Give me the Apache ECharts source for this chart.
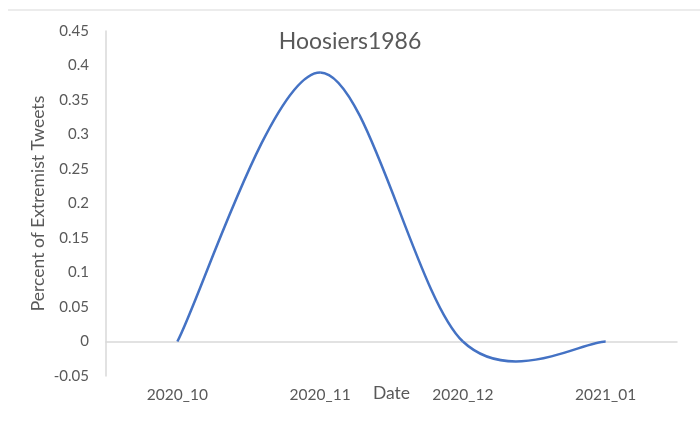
<!DOCTYPE html>
<html>
<head>
<meta charset="utf-8">
<script src="https://cdn.jsdelivr.net/npm/echarts@6/dist/echarts.min.js"></script>
<style>
  html, body { margin: 0; padding: 0; background: #fff; }
  #chart { width: 700px; height: 421px; }
</style>
</head>
<body>
<div id="chart"></div>
<script>
// data
var months = ['2020_10', '2020_11', '2020_12', '2021_01'];
var percentExtremist = [0, 0.39, 0, 0];
var chartTitle = 'Hoosiers1986';

var chart = echarts.init(document.getElementById('chart'));
var textColor = '#595959';
var font = 'Lato, "Open Sans", sans-serif';
var lineColor = '#4472C4';

// Excel style smoothed segment between point i and i+1 (Catmull-Rom like)
function renderSegment(params, api) {
  var i = params.dataIndex;
  var n = percentExtremist.length;
  if (i >= n - 1) return null;
  function pt(j) {
    j = Math.max(0, Math.min(n - 1, j));
    return api.coord([j, percentExtremist[j]]);
  }
  var p0 = pt(i - 1), p1 = pt(i), p2 = pt(i + 1), p3 = pt(i + 2);
  return {
    type: 'bezierCurve',
    shape: {
      x1: p1[0], y1: p1[1],
      x2: p2[0], y2: p2[1],
      cpx1: p1[0] + (p2[0] - p0[0]) / 6,
      cpy1: p1[1] + (p2[1] - p0[1]) / 6,
      cpx2: p2[0] - (p3[0] - p1[0]) / 6,
      cpy2: p2[1] - (p3[1] - p1[1]) / 6
    },
    style: { stroke: lineColor, lineWidth: 2.5, fill: null }
  };
}

chart.setOption({
  animation: false,
  backgroundColor: '#fff',
  title: {
    text: chartTitle,
    left: 'center',
    top: 25,
    textStyle: { color: textColor, fontFamily: font, fontSize: 23, fontWeight: 'normal' }
  },
  graphic: [{
    type: 'line',
    shape: { x1: 8, y1: 10, x2: 700, y2: 10 },
    style: { stroke: '#d9d9d9', lineWidth: 1 }
  }],
  grid: { left: 106, right: 23, top: 31, bottom: 45, outerBoundsMode: 'none' },
  xAxis: {
    type: 'category',
    data: months,
    boundaryGap: true,
    name: 'Date',
    nameLocation: 'middle',
    nameGap: 8,
    nameMoveOverlap: false,
    nameTextStyle: { color: textColor, fontFamily: font, fontSize: 17.5 },
    axisLine: { onZero: true, lineStyle: { color: '#d9d9d9', width: 1.5 } },
    axisTick: { show: false },
    axisLabel: { color: textColor, fontFamily: font, fontSize: 15.5, margin: 11 },
    splitLine: { show: false }
  },
  yAxis: {
    type: 'value',
    min: -0.05,
    max: 0.45,
    interval: 0.05,
    name: 'Percent of Extremist Tweets',
    nameLocation: 'middle',
    nameGap: 59,
    nameMoveOverlap: false,
    nameTextStyle: { color: textColor, fontFamily: font, fontSize: 17.5 },
    axisLine: { show: true, lineStyle: { color: '#d9d9d9', width: 1.5 } },
    axisTick: { show: false },
    axisLabel: {
      color: textColor, fontFamily: font, fontSize: 15, margin: 17,
      formatter: function (v) { return String(Math.round(v * 100) / 100); }
    },
    splitLine: { show: false }
  },
  series: [{
    type: 'custom',
    renderItem: renderSegment,
    encode: { x: 0, y: 1 },
    data: percentExtremist.map(function (v, i) { return [i, v]; })
  }]
});
</script>
</body>
</html>
